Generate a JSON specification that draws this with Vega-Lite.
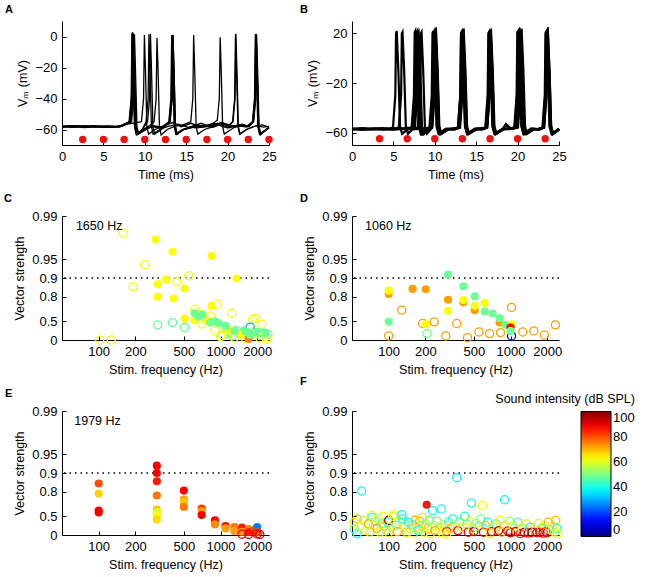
{
  "$schema": "https://vega.github.io/schema/vega-lite/v6.json",
  "padding": {"left": 4, "top": 4, "right": 5, "bottom": 5},
  "columns": 2,
  "spacing": {"row": 71, "column": 83},
  "bounds": "flush",
  "resolve": {"scale": {"color": "independent"}},
  "config": {
    "font": "Liberation Sans",
    "view": {"stroke": null},
    "axis": {"grid": false, "domainColor": "black", "tickColor": "black", "labelColor": "black", "titleColor": "black", "labelFontSize": 13, "titleFontSize": 12.5, "titleFontWeight": "normal", "tickSize": -4, "labelPadding": 9, "domainWidth": 1, "tickWidth": 1, "labelFlush": false, "labelOverlap": false, "titlePadding": 5},
    "title": {"fontSize": 11, "fontWeight": "bold", "anchor": "start", "color": "black", "offset": 6, "frame": "group"}
  },
  "datasets": {
    "traces_a": [
      {"trial": "a1", "t": [0,1.5,3,4.5,6,7.2,8.1,8.35,8.45,8.57,8.75,8.95,9.75,10.9,12,12.6,13.0,13.25,13.35,13.47,13.65,13.85,14.65,15.9,17,18.4,19.5,20.9,22,22.6,23.05,23.3,23.4,23.52,23.7,23.9,24.7,25],
       "v": [-58,-57.5,-58.2,-57.8,-58.4,-57.6,-55,-40,2,-20,-58,-63,-60,-58,-59,-57,-55,-40,1,-20,-58,-63,-60,-58.5,-57.5,-58,-56,-58.5,-57.5,-58,-55,-40,1.5,-20,-58,-63,-60,-59]},
      {"trial": "a2", "t": [0,1.2,2.7,4.2,5.6,7.0,8.2,8.45,8.55,8.67,8.85,9.05,9.6,10.15,10.4,10.5,10.62,10.8,11.0,11.8,12.8,14,15.2,16.3,17.6,18.8,20,21.2,22.3,23.15,23.4,23.5,23.62,23.8,24.0,24.7,25],
       "v": [-58.5,-58,-58.8,-58.2,-58.6,-58,-55,-40,2.5,-20,-58,-63.5,-61,-55,-40,1.5,-20,-58,-63,-60,-58,-56.5,-58.5,-59,-58,-56,-59,-57.5,-58,-55,-40,1,-20,-58,-63,-60,-58.5]},
      {"trial": "a3", "t": [0,1.4,2.8,4.3,5.7,7.1,8.3,8.55,8.65,8.77,8.95,9.15,9.9,11,12.2,13.05,13.3,13.4,13.52,13.7,13.9,14.7,15.8,17,18.3,19.6,20.3,20.65,20.9,21.0,21.12,21.3,21.5,22.3,23.2,24.2,25],
       "v": [-57.8,-58.3,-57.6,-58.4,-57.9,-58.2,-55,-40,1.5,-20,-58,-63,-60,-58,-59,-55,-40,1,-20,-58,-63,-60,-58.5,-58,-56,-58.5,-57,-55,-40,1.7,-20,-58,-63,-60,-58,-57,-58.5]},
      {"trial": "a4", "t": [0,1.3,2.6,4,5.4,6.8,8.15,8.4,8.5,8.62,8.8,9.0,9.8,10.6,11.12,11.37,11.47,11.59,11.77,11.97,12.7,13.6,14.6,15.55,15.8,15.9,16.02,16.2,16.4,17.2,18.4,19.2,20.3,21.3,22.3,23.0,23.25,23.35,23.47,23.65,23.85,24.6,25],
       "v": [-58,-58.6,-57.7,-58.3,-57.6,-58.1,-55,-40,2,-20,-58,-63,-60,-57.5,-55,-40,-1,-20,-58,-63.5,-60,-58,-57,-55,-40,1,-20,-58,-63,-60,-58,-55.5,-58.5,-57,-58,-55,-40,1.5,-20,-58,-63,-60,-59]},
      {"trial": "a5", "t": [0,1.6,3.1,4.4,5.9,7.3,8.4,8.65,8.75,8.87,9.05,9.25,10.0,11.0,12.1,12.95,13.2,13.3,13.42,13.6,13.8,14.6,15.7,16.9,18.0,19.2,20.4,21.7,22.5,23.1,23.35,23.45,23.57,23.75,23.95,24.7,25],
       "v": [-58.2,-57.7,-58.5,-58,-58.3,-57.8,-55,-40,1.5,-20,-58,-63,-60.5,-57.5,-58.5,-55,-40,0.5,-20,-58,-63,-60,-58,-57.5,-58.5,-55.5,-58,-57,-58.3,-55,-40,1.8,-20,-58,-63.5,-60,-59]},
      {"trial": "a6", "t": [0,1.1,2.5,3.9,5.3,6.7,7.9,8.9,9.6,9.85,9.95,10.07,10.25,10.45,11.25,12.3,13.4,14.4,15.6,16.8,17.9,18.5,18.75,19.0,19.1,19.22,19.4,19.6,20.4,21.2,22.3,23.05,23.3,23.4,23.52,23.7,23.9,24.7,25],
       "v": [-58.4,-57.9,-58.1,-57.5,-58.6,-58,-56.5,-55.5,-55,-40,1,-20,-58,-63,-60,-57.5,-55.5,-58.2,-56,-58.4,-57.8,-55,-54,-40,-0.5,-20,-58,-63,-60,-57.5,-58.5,-55,-40,1.5,-20,-58,-63,-60,-58.5]},
      {"trial": "a7", "t": [0,1.45,2.9,4.35,5.8,7.15,8.15,8.4,8.5,8.62,8.8,9.0,9.7,10.33,10.58,10.68,10.8,10.98,11.18,12.0,13.05,13.3,13.4,13.52,13.7,13.9,14.7,15.8,17.0,18.3,19.4,20.6,21.8,22.6,23.1,23.35,23.45,23.57,23.75,23.95,24.7,25],
       "v": [-57.9,-58.4,-57.8,-58.2,-58.5,-57.9,-55,-40,2.8,-20,-58,-63,-60,-55,-40,1.7,-20,-58,-63,-60,-55,-40,1.2,-20,-58,-63,-60,-58.3,-57.6,-58.5,-56,-58,-56.5,-58.2,-55,-40,1.5,-20,-58,-63,-60,-59]},
      {"trial": "a8", "t": [0,1.35,2.75,4.1,5.5,6.9,8.25,8.5,8.6,8.72,8.9,9.1,9.9,11.0,12.0,12.9,13.15,13.25,13.37,13.55,13.75,14.55,15.7,16.8,18.0,19.1,20.1,20.6,20.85,20.95,21.07,21.25,21.45,22.25,23.5,24.3,25],
       "v": [-58.1,-57.6,-58.4,-57.9,-58.2,-58.5,-55,-40,2,-20,-58,-63,-60,-58,-58.8,-55,-40,0.8,-20,-58,-63,-60,-58,-56,-58.5,-56.5,-57.5,-55,-40,1.5,-20,-58,-63,-60,-57.5,-58.5,-58]}
    ],
    "traces_b": [
      {"trial": "b1", "t": [0,1.2,2.4,3.6,4.6,4.95,5.23,5.32,5.4,5.6,5.8,6.05,6.8,7.35,7.63,7.72,7.8,8.0,8.2,8.45,9.0,9.55,9.83,9.92,10.0,10.2,10.4,10.65,11.5,12.4,12.9,13.18,13.27,13.35,13.55,13.75,14.0,14.9,15.8,16.2,16.48,16.57,16.65,16.85,17.05,17.3,18.2,19.1,19.75,20.03,20.12,20.2,20.4,20.6,20.85,21.8,22.6,23.1,23.38,23.47,23.55,23.75,23.95,24.2,25],
       "v": [-57,-56.5,-57.5,-57,-56.5,-56,-30,20,22,-10,-55,-61,-57,-56,-30,20,22,-10,-55,-61,-57,-56,-30,21,22,-10,-55,-61,-57.5,-56.5,-56,-30,20,21,-10,-55,-61,-57,-57.5,-56,-30,20,21.5,-10,-55,-61,-57,-56.5,-56,-30,21,22,-10,-55,-61,-57,-57.5,-56,-30,21,22,-10,-55,-61,-58]},
      {"trial": "b2", "t": [0,1.3,2.6,3.9,5.0,5.65,5.93,6.02,6.1,6.3,6.5,6.75,7.5,7.78,7.87,7.95,8.15,8.35,8.6,9.2,9.65,9.93,10.02,10.1,10.3,10.5,10.75,11.6,12.5,13.0,13.28,13.37,13.45,13.65,13.85,14.1,15.0,15.9,16.3,16.58,16.67,16.75,16.95,17.15,17.4,18.3,18.6,19.2,19.9,20.18,20.27,20.35,20.55,20.75,21.0,21.9,22.7,23.2,23.48,23.57,23.65,23.85,24.05,24.3,25],
       "v": [-57.5,-57,-56.5,-57.5,-57,-56,-30,20,21,-10,-55,-61,-56,-30,21,22.5,-10,-55,-61,-57,-56,-30,21,22,-10,-55,-61,-57,-56.5,-56,-30,20,21,-10,-55,-61,-57.5,-57,-56,-30,20,21,-10,-55,-61,-57,-53,-57,-56,-30,20,21,-10,-55,-61,-57.5,-57,-56,-30,21,22,-10,-55,-61,-57.5]},
      {"trial": "b3", "t": [0,1.1,2.3,3.5,4.7,5.9,6.7,7.2,7.48,7.57,7.65,7.85,8.05,8.3,8.9,9.5,9.78,9.87,9.95,10.15,10.35,10.6,11.4,12.3,12.85,13.13,13.22,13.3,13.5,13.7,13.95,14.8,15.7,16.15,16.43,16.52,16.6,16.8,17.0,17.25,18.1,19.0,19.6,19.88,19.97,20.05,20.25,20.45,20.7,21.6,22.5,23.05,23.33,23.42,23.5,23.7,23.9,24.15,25],
       "v": [-56.8,-57.6,-57.2,-56.6,-57.4,-57,-56.2,-56,-30,21,22,-10,-55,-61,-57,-56,-30,20,22,-10,-55,-61,-57,-57.5,-56,-30,20,21,-10,-55,-61,-57,-56.8,-56,-30,20,21,-10,-55,-61,-57.5,-57,-56,-30,21,21.5,-10,-55,-61,-56.8,-57.4,-56,-30,20,22,-10,-55,-61,-57]},
      {"trial": "b4", "t": [0,1.4,2.8,4.0,5.2,6.4,7.4,7.95,8.23,8.32,8.4,8.6,8.8,9.05,9.7,9.98,10.07,10.15,10.35,10.55,10.8,11.7,12.5,12.95,13.23,13.32,13.4,13.6,13.8,14.05,14.9,15.8,16.25,16.53,16.62,16.7,16.9,17.1,17.35,18.2,18.5,19.3,20.05,20.33,20.42,20.5,20.7,20.9,21.15,22.0,22.7,23.15,23.43,23.52,23.6,23.8,24.0,24.25,25],
       "v": [-57.2,-56.7,-57.3,-57,-56.5,-57.3,-56.8,-56,-30,20,21,-10,-55,-61,-56,-30,21,22,-10,-55,-61,-57,-57.3,-56,-30,21,21.5,-10,-55,-61,-57.2,-56.6,-56,-30,20.5,21,-10,-55,-61,-57,-54,-57,-56,-30,20,21,-10,-55,-61,-57,-57.3,-56,-30,21,22,-10,-55,-61,-57]},
      {"trial": "b5", "t": [0,1.25,2.5,3.75,5.0,6.2,7.0,7.45,7.73,7.82,7.9,8.1,8.3,8.55,9.1,9.6,9.88,9.97,10.05,10.25,10.45,10.7,11.6,12.3,12.8,13.08,13.17,13.25,13.45,13.65,13.9,14.8,15.6,16.3,16.58,16.67,16.75,16.95,17.15,17.4,18.3,19.1,19.8,20.08,20.17,20.25,20.45,20.65,20.9,21.8,22.6,23.1,23.38,23.47,23.55,23.75,23.95,24.2,25],
       "v": [-57.4,-56.9,-57.1,-57.6,-56.7,-57.2,-56.5,-56,-30,21,22,-10,-55,-61,-57,-56,-30,21,22.5,-10,-55,-61,-57.3,-56.8,-56,-30,20,21,-10,-55,-61,-57,-57.4,-56,-30,20,21,-10,-55,-61,-56.9,-57.3,-56,-30,20.5,21.5,-10,-55,-61,-57.2,-56.9,-56,-30,21,22,-10,-55,-61,-57.3]},
      {"trial": "b6", "t": [0,1.5,3.0,4.5,6.0,7.2,8.1,8.9,9.35,9.63,9.72,9.8,10.0,10.2,10.45,11.3,12.4,13.05,13.33,13.42,13.5,13.7,13.9,14.15,15.1,16.1,16.38,16.47,16.55,16.75,16.95,17.2,18.1,19.0,19.65,19.93,20.02,20.1,20.3,20.5,20.75,21.7,22.5,23.0,23.28,23.37,23.45,23.65,23.85,24.1,25],
       "v": [-57,-57.5,-56.8,-57.3,-56.9,-57.4,-57,-56.4,-56,-30,20,22,-10,-55,-61,-57,-57.4,-56,-30,20,21,-10,-55,-61,-57,-56,-30,20,21,-10,-55,-61,-57.3,-56.8,-56,-30,21,22,-10,-55,-61,-57.4,-56.9,-56,-30,20,22,-10,-55,-61,-57.1]},
      {"trial": "b7", "t": [0,1.3,2.6,3.8,5.1,6.3,6.9,7.3,7.58,7.67,7.75,7.95,8.15,8.4,9.0,9.65,9.93,10.02,10.1,10.3,10.5,10.75,11.7,12.4,12.9,13.18,13.27,13.35,13.55,13.75,14.0,15.0,15.7,16.2,16.48,16.57,16.65,16.85,17.05,17.3,18.2,19.2,19.95,20.23,20.32,20.4,20.6,20.8,21.05,22.0,22.7,23.2,23.48,23.57,23.65,23.85,24.05,24.3,25],
       "v": [-56.9,-57.4,-57.1,-56.6,-57.5,-57,-56.3,-56,-30,20,21.5,-10,-55,-61,-57,-56,-30,21,22,-10,-55,-61,-57.4,-56.9,-56,-30,20,21,-10,-55,-61,-56.8,-57.3,-56,-30,20,21.5,-10,-55,-61,-57.2,-56.8,-56,-30,20,21,-10,-55,-61,-57.1,-57.4,-56,-30,21,22,-10,-55,-61,-57]},
      {"trial": "b8", "t": [0,1.2,2.4,3.7,4.9,6.1,7.1,7.6,7.88,7.97,8.05,8.25,8.45,8.7,9.5,9.78,9.87,9.95,10.15,10.35,10.6,11.5,12.3,12.8,13.08,13.17,13.25,13.45,13.65,13.9,14.9,15.7,16.35,16.63,16.72,16.8,17.0,17.2,17.45,18.3,19.1,19.7,19.98,20.07,20.15,20.35,20.55,20.8,21.7,22.6,23.1,23.38,23.47,23.55,23.75,23.95,24.2,25],
       "v": [-57.3,-56.8,-57.2,-56.9,-57.5,-56.7,-57.1,-56,-30,20,21,-10,-55,-61,-56,-30,21,22,-10,-55,-61,-57,-57.5,-56,-30,20,21,-10,-55,-61,-57.1,-56.7,-56,-30,20,21,-10,-55,-61,-57.3,-57,-56,-30,21,22,-10,-55,-61,-56.8,-57.2,-56,-30,21,22,-10,-55,-61,-57.2]}
    ],
    "stim_a": [{"t":2.5,"v":-66.5},{"t":5,"v":-66.5},{"t":7.5,"v":-66.5},{"t":10,"v":-66.5},{"t":12.5,"v":-66.5},{"t":15,"v":-66.5},{"t":17.5,"v":-66.5},{"t":20,"v":-66.5},{"t":22.5,"v":-66.5},{"t":25,"v":-66.5}],
    "stim_b": [{"t":3.33,"v":-65},{"t":6.67,"v":-65},{"t":10,"v":-65},{"t":13.33,"v":-65},{"t":16.67,"v":-65},{"t":20,"v":-65},{"t":23.33,"v":-65}],
    "c": [
      {"f":102,"q":1,"db":62,"s":"o"},{"f":127,"q":1,"db":62,"s":"o"},{"f":159,"q":0.019,"db":62,"s":"o"},{"f":237,"q":0.061,"db":62,"s":"o"},{"f":192,"q":0.139,"db":62,"s":"o"},{"f":438,"q":0.114,"db":62,"s":"o"},{"f":547,"q":0.092,"db":62,"s":"o"},{"f":305,"q":0.572,"db":47,"s":"o"},{"f":404,"q":0.524,"db":47,"s":"o"},{"f":507,"q":0.63,"db":47,"s":"o"},{"f":614,"q":0.319,"db":62,"s":"o"},{"f":938,"q":0.265,"db":62,"s":"o"},{"f":1233,"q":0.37,"db":62,"s":"o"},{"f":826,"q":0.409,"db":62,"s":"o"},{"f":1945,"q":0.447,"db":62,"s":"o"},{"f":1828,"q":0.462,"db":62,"s":"o"},{"f":2177,"q":0.557,"db":62,"s":"o"},{"f":700,"q":0.55,"db":62,"s":"o"},{"f":760,"q":0.48,"db":62,"s":"o"},{"f":1050,"q":0.82,"db":50,"s":"o"},{"f":1150,"q":0.75,"db":62,"s":"o"},{"f":1250,"q":0.86,"db":45,"s":"o"},{"f":1350,"q":0.7,"db":50,"s":"o"},{"f":1450,"q":0.8,"db":55,"s":"o"},{"f":1550,"q":0.72,"db":47,"s":"o"},{"f":1650,"q":0.78,"db":50,"s":"o"},{"f":1750,"q":0.85,"db":45,"s":"o"},{"f":1850,"q":0.74,"db":50,"s":"o"},{"f":1950,"q":0.8,"db":62,"s":"o"},{"f":2050,"q":0.76,"db":47,"s":"o"},{"f":2150,"q":0.85,"db":50,"s":"o"},{"f":2250,"q":0.78,"db":45,"s":"o"},{"f":2350,"q":0.88,"db":62,"s":"o"},{"f":2450,"q":0.8,"db":50,"s":"o"},{"f":1300,"q":0.92,"db":62,"s":"o"},{"f":1600,"q":0.95,"db":62,"s":"o"},{"f":2100,"q":0.93,"db":62,"s":"o"},{"f":2400,"q":0.97,"db":62,"s":"o"},{"f":1000,"q":0.88,"db":62,"s":"o"},{"f":900,"q":0.7,"db":62,"s":"o"},{"f":1100,"q":0.65,"db":62,"s":"o"},{"f":1750,"q":0.62,"db":30,"s":"o"},
      {"f":294,"q":0.024,"db":62,"s":"f"},{"f":404,"q":0.0377,"db":62,"s":"f"},{"f":843,"q":0.0443,"db":62,"s":"f"},{"f":305,"q":0.126,"db":62,"s":"f"},{"f":358,"q":0.106,"db":62,"s":"f"},{"f":305,"q":0.201,"db":62,"s":"f"},{"f":411,"q":0.214,"db":62,"s":"f"},{"f":507,"q":0.148,"db":62,"s":"f"},{"f":1355,"q":0.102,"db":62,"s":"f"},{"f":507,"q":0.452,"db":62,"s":"f"},{"f":614,"q":0.48,"db":62,"s":"f"},{"f":843,"q":0.282,"db":62,"s":"f"},{"f":705,"q":0.385,"db":62,"s":"f"},{"f":800,"q":0.5,"db":62,"s":"f"},{"f":1200,"q":0.7,"db":62,"s":"f"},{"f":1500,"q":0.8,"db":62,"s":"f"},{"f":1700,"q":0.96,"db":75,"s":"f"},
      {"f":614,"q":0.37,"db":48,"s":"f"},{"f":705,"q":0.394,"db":48,"s":"f"},{"f":660,"q":0.42,"db":48,"s":"f"},{"f":826,"q":0.524,"db":48,"s":"f"},{"f":900,"q":0.5,"db":48,"s":"f"},{"f":967,"q":0.537,"db":48,"s":"f"},{"f":1100,"q":0.593,"db":48,"s":"f"},{"f":1300,"q":0.715,"db":48,"s":"f"},{"f":1600,"q":0.72,"db":48,"s":"f"},{"f":1950,"q":0.75,"db":48,"s":"f"},{"f":2350,"q":0.78,"db":48,"s":"f"},{"f":1750,"q":0.82,"db":48,"s":"f"}
    ],
    "d": [
      {"f":100,"q":0.181,"db":72,"s":"f"},{"f":100,"q":0.16,"db":62,"s":"f"},{"f":100,"q":0.51,"db":48,"s":"f"},{"f":157,"q":0.15,"db":72,"s":"f"},{"f":202,"q":0.152,"db":72,"s":"f"},{"f":202,"q":0.556,"db":62,"s":"f"},{"f":307,"q":0.0877,"db":48,"s":"f"},{"f":307,"q":0.224,"db":72,"s":"f"},{"f":307,"q":0.337,"db":62,"s":"f"},{"f":410,"q":0.136,"db":48,"s":"f"},{"f":410,"q":0.247,"db":72,"s":"f"},{"f":410,"q":0.226,"db":62,"s":"f"},{"f":508,"q":0.197,"db":48,"s":"f"},{"f":508,"q":0.33,"db":72,"s":"f"},{"f":508,"q":0.28,"db":62,"s":"f"},{"f":613,"q":0.253,"db":62,"s":"f"},{"f":613,"q":0.347,"db":48,"s":"f"},{"f":712,"q":0.373,"db":48,"s":"f"},{"f":813,"q":0.523,"db":72,"s":"f"},{"f":813,"q":0.444,"db":48,"s":"f"},{"f":910,"q":0.57,"db":48,"s":"f"},{"f":1019,"q":0.556,"db":62,"s":"f"},{"f":1000,"q":0.63,"db":88,"s":"f"},{"f":1000,"q":0.714,"db":48,"s":"f"},
      {"f":100,"q":0.86,"db":72,"s":"o"},{"f":128,"q":0.33,"db":72,"s":"o"},{"f":190,"q":0.542,"db":72,"s":"o"},{"f":236,"q":0.51,"db":72,"s":"o"},{"f":206,"q":0.789,"db":48,"s":"o"},{"f":294,"q":0.86,"db":72,"s":"o"},{"f":362,"q":0.542,"db":72,"s":"o"},{"f":443,"q":0.916,"db":72,"s":"o"},{"f":551,"q":0.741,"db":72,"s":"o"},{"f":673,"q":0.789,"db":72,"s":"o"},{"f":828,"q":0.76,"db":72,"s":"o"},{"f":1019,"q":0.298,"db":72,"s":"o"},{"f":1019,"q":0.86,"db":10,"s":"o"},{"f":1262,"q":0.741,"db":72,"s":"o"},{"f":1552,"q":0.714,"db":72,"s":"o"},{"f":1897,"q":0.83,"db":72,"s":"o"},{"f":2335,"q":0.57,"db":72,"s":"o"}
    ],
    "e": [
      {"f":100,"q":0.148,"db":80,"s":"f"},{"f":100,"q":0.215,"db":67,"s":"f"},{"f":100,"q":0.402,"db":88,"s":"f"},{"f":100,"q":0.433,"db":88,"s":"f"},
      {"f":300,"q":0.0762,"db":88,"s":"f"},{"f":300,"q":0.1,"db":88,"s":"f"},{"f":300,"q":0.136,"db":85,"s":"f"},{"f":300,"q":0.231,"db":76,"s":"f"},{"f":300,"q":0.387,"db":68,"s":"f"},{"f":300,"q":0.428,"db":58,"s":"f"},{"f":300,"q":0.478,"db":62,"s":"f"},{"f":300,"q":0.561,"db":66,"s":"f"},
      {"f":500,"q":0.192,"db":88,"s":"f"},{"f":500,"q":0.268,"db":72,"s":"f"},{"f":500,"q":0.292,"db":68,"s":"f"},{"f":500,"q":0.351,"db":76,"s":"f"},
      {"f":700,"q":0.373,"db":82,"s":"f"},{"f":700,"q":0.412,"db":72,"s":"f"},{"f":700,"q":0.478,"db":88,"s":"f"},
      {"f":900,"q":0.582,"db":88,"s":"f"},{"f":900,"q":0.674,"db":74,"s":"f"},
      {"f":1100,"q":0.718,"db":88,"s":"f"},{"f":1100,"q":0.782,"db":72,"s":"f"},
      {"f":1300,"q":0.744,"db":76,"s":"f"},{"f":1300,"q":0.863,"db":72,"s":"f"},
      {"f":1500,"q":0.762,"db":85,"s":"f"},{"f":1500,"q":0.885,"db":72,"s":"f"},
      {"f":1700,"q":0.8,"db":74,"s":"f"},{"f":1700,"q":0.9,"db":85,"s":"f"},
      {"f":1900,"q":0.83,"db":80,"s":"f"},{"f":2000,"q":0.744,"db":25,"s":"f"},{"f":2000,"q":0.9,"db":80,"s":"f"},
      {"f":1500,"q":0.97,"db":90,"s":"o"},{"f":1700,"q":0.98,"db":88,"s":"o"},{"f":2000,"q":0.96,"db":90,"s":"o"},{"f":2100,"q":0.98,"db":92,"s":"o"}
    ],
    "f": [
      {"f":52,"q":0.62,"db":65},{"f":52,"q":0.8,"db":45},{"f":55,"q":0.95,"db":40},{"f":55,"q":0.55,"db":70},{"f":58,"q":0.72,"db":60},{"f":60,"q":0.195,"db":38},{"f":62,"q":0.58,"db":55},{"f":65,"q":0.85,"db":62},{"f":68,"q":0.66,"db":70},{"f":70,"q":0.9,"db":55},{"f":72,"q":0.48,"db":62},{"f":73,"q":0.52,"db":45},{"f":75,"q":0.7,"db":65},{"f":78,"q":0.6,"db":50},{"f":80,"q":0.78,"db":72},{"f":82,"q":0.55,"db":58},{"f":85,"q":0.9,"db":62},{"f":88,"q":0.65,"db":45},{"f":90,"q":0.5,"db":60},{"f":92,"q":0.72,"db":68},{"f":95,"q":0.85,"db":50},{"f":98,"q":0.62,"db":40},{"f":100,"q":0.58,"db":95},{"f":100,"q":0.92,"db":65},{"f":103,"q":0.75,"db":55},
      {"f":108,"q":0.5,"db":60},{"f":111,"q":0.47,"db":62},{"f":115,"q":0.7,"db":48},{"f":118,"q":0.88,"db":70},{"f":122,"q":0.6,"db":58},{"f":128,"q":0.47,"db":38},{"f":130,"q":0.55,"db":42},{"f":135,"q":0.75,"db":65},{"f":140,"q":0.9,"db":68},{"f":145,"q":0.62,"db":40},{"f":150,"q":0.8,"db":55},{"f":155,"q":0.68,"db":45},{"f":160,"q":0.95,"db":62},{"f":165,"q":0.58,"db":70},{"f":170,"q":0.78,"db":58},{"f":175,"q":0.85,"db":42},{"f":180,"q":0.6,"db":72},{"f":185,"q":0.72,"db":50},{"f":190,"q":0.52,"db":65},{"f":195,"q":0.9,"db":60},{"f":200,"q":0.66,"db":55},{"f":210,"q":0.8,"db":68},{"f":215,"q":0.58,"db":45},{"f":220,"q":0.95,"db":62},{"f":229,"q":0.405,"db":38},{"f":235,"q":0.7,"db":60},{"f":240,"q":0.85,"db":72},{"f":250,"q":0.6,"db":48},{"f":260,"q":0.75,"db":65},{"f":271,"q":0.381,"db":40},{"f":275,"q":0.92,"db":62},{"f":285,"q":0.68,"db":55},{"f":300,"q":0.88,"db":85},{"f":300,"q":0.97,"db":62},{"f":310,"q":0.62,"db":45},{"f":320,"q":0.78,"db":68},{"f":335,"q":0.55,"db":40},{"f":350,"q":0.7,"db":58},{"f":362,"q":0.119,"db":38},{"f":370,"q":0.85,"db":90},{"f":380,"q":0.62,"db":52},{"f":400,"q":0.75,"db":65},{"f":420,"q":0.5,"db":42},{"f":440,"q":0.68,"db":48},{"f":450,"q":0.9,"db":88},{"f":460,"q":0.6,"db":60},{"f":477,"q":0.306,"db":40},{"f":490,"q":0.8,"db":62},{"f":500,"q":0.88,"db":92},{"f":520,"q":0.65,"db":55},{"f":550,"q":0.72,"db":45},{"f":570,"q":0.55,"db":50},{"f":587,"q":0.333,"db":62},{"f":600,"q":0.9,"db":88},{"f":620,"q":0.7,"db":68},{"f":650,"q":0.62,"db":40},{"f":680,"q":0.95,"db":65},{"f":700,"q":0.88,"db":90},{"f":720,"q":0.75,"db":58},{"f":760,"q":0.66,"db":48},{"f":800,"q":0.85,"db":92},{"f":820,"q":0.58,"db":60},{"f":850,"q":0.9,"db":70},{"f":893,"q":0.27,"db":38},{"f":900,"q":0.7,"db":65},{"f":950,"q":0.86,"db":88},{"f":980,"q":0.6,"db":52},{"f":1000,"q":0.92,"db":94},{"f":1050,"q":0.72,"db":62},{"f":1100,"q":0.88,"db":90},{"f":1150,"q":0.62,"db":45},{"f":1200,"q":0.95,"db":85},{"f":1250,"q":0.78,"db":55},{"f":1300,"q":0.9,"db":92},{"f":1350,"q":0.66,"db":60},{"f":1400,"q":0.93,"db":88},{"f":1450,"q":0.75,"db":40},{"f":1500,"q":0.9,"db":95},{"f":1600,"q":0.85,"db":68},{"f":1650,"q":0.92,"db":90},{"f":1700,"q":0.65,"db":58},{"f":1750,"q":0.9,"db":88},{"f":1800,"q":0.78,"db":45},{"f":1850,"q":0.93,"db":92},{"f":1900,"q":0.7,"db":62},{"f":1950,"q":0.88,"db":85},{"f":2000,"q":0.92,"db":90},{"f":2050,"q":0.62,"db":70},{"f":2100,"q":0.82,"db":50},{"f":2200,"q":0.72,"db":65},{"f":2300,"q":0.9,"db":58},{"f":2350,"q":0.58,"db":68},{"f":2400,"q":0.78,"db":42},{"f":2450,"q":0.95,"db":62}
    ],
    "f_filled": [{"f":205,"q":0.325,"db":90}]
  },
  "concat": [
    {
      "title": {"text": "A", "dx": -57},
      "width": 207, "height": 124,
      "layer": [
        {
          "data": {"name": "traces_a"},
          "transform": [{"flatten": ["t", "v"]}],
          "mark": {"type": "line", "color": "black", "strokeWidth": 1.3},
          "encoding": {
            "x": {"field": "t", "type": "quantitative", "scale": {"domain": [0, 25], "nice": false}, "axis": {"values": [0,5,10,15,20,25], "title": "Time (ms)"}},
            "y": {"field": "v", "type": "quantitative", "scale": {"domain": [-70, 10], "nice": false}, "axis": {"values": [-60,-40,-20,0], "title": "Vₘ (mV)"}},
            "detail": {"field": "trial"}
          }
        },
        {
          "data": {"name": "stim_a"},
          "mark": {"type": "point", "filled": true, "color": "#ee1111", "size": 55, "opacity": 1},
          "encoding": {
            "x": {"field": "t", "type": "quantitative"},
            "y": {"field": "v", "type": "quantitative"}
          }
        }
      ]
    },
    {
      "title": {"text": "B", "dx": -52},
      "width": 207, "height": 124,
      "layer": [
        {
          "data": {"name": "traces_b"},
          "transform": [{"flatten": ["t", "v"]}],
          "mark": {"type": "line", "color": "black", "strokeWidth": 2.2},
          "encoding": {
            "x": {"field": "t", "type": "quantitative", "scale": {"domain": [0, 25], "nice": false}, "axis": {"values": [0,5,10,15,20,25], "title": "Time (ms)"}},
            "y": {"field": "v", "type": "quantitative", "scale": {"domain": [-70, 30], "nice": false}, "axis": {"values": [-60,-40,-20,0,20], "title": "Vₘ (mV)"}},
            "detail": {"field": "trial"}
          }
        },
        {
          "data": {"name": "stim_b"},
          "mark": {"type": "point", "filled": true, "color": "#ee1111", "size": 55, "opacity": 1},
          "encoding": {
            "x": {"field": "t", "type": "quantitative"},
            "y": {"field": "v", "type": "quantitative"}
          }
        }
      ]
    },
    {
      "title": {"text": "C", "dx": -58},
      "width": 207, "height": 124,
      "layer": [
        {
          "data": {"values": [{"q": 0.1}]},
          "mark": {"type": "rule", "color": "black", "strokeWidth": 1.5, "strokeDash": [1.5, 4]},
          "encoding": {"y": {"field": "q", "type": "quantitative", "scale": {"type": "log", "domain": [0.01, 1], "reverse": true, "nice": false}, "axis": {"values": [1,0.5,0.2,0.1,0.05,0.01], "labelExpr": "'' + round((1 - datum.value) * 100) / 100", "title": "Vector strength"}}}
        },
        {
          "data": {"name": "c"},
          "transform": [{"filter": "datum.s == 'o'"}],
          "mark": {"type": "point", "filled": false, "size": 66, "strokeWidth": 1.3, "opacity": 1},
          "encoding": {
            "x": {"field": "f", "type": "quantitative", "scale": {"type": "log", "domain": [50, 2500], "nice": false}, "axis": {"values": [100,200,500,1000,2000], "format": "d", "title": "Stim. frequency (Hz)"}},
            "y": {"field": "q", "type": "quantitative"},
            "color": {"field": "db", "type": "quantitative", "scale": {"domain": [0, 100], "range": ["#000080","#0000ff","#0080ff","#00ffff","#80ff80","#ffff00","#ff8000","#ff0000","#800000"], "interpolate": "rgb"}, "legend": null}
          }
        },
        {
          "data": {"name": "c"},
          "transform": [{"filter": "datum.s == 'f'"}],
          "mark": {"type": "point", "filled": true, "size": 66, "opacity": 1},
          "encoding": {
            "x": {"field": "f", "type": "quantitative"},
            "y": {"field": "q", "type": "quantitative"},
            "color": {"field": "db", "type": "quantitative", "legend": null}
          }
        },
        {
          "data": {"values": [{"f": 65, "q": 0.0143, "label": "1650 Hz"}]},
          "mark": {"type": "text", "align": "left", "baseline": "middle", "fontSize": 12.5, "color": "black"},
          "encoding": {"x": {"field": "f", "type": "quantitative"}, "y": {"field": "q", "type": "quantitative"}, "text": {"field": "label"}}
        }
      ]
    },
    {
      "title": {"text": "D", "dx": -52},
      "width": 207, "height": 124,
      "layer": [
        {
          "data": {"values": [{"q": 0.1}]},
          "mark": {"type": "rule", "color": "black", "strokeWidth": 1.5, "strokeDash": [1.5, 4]},
          "encoding": {"y": {"field": "q", "type": "quantitative", "scale": {"type": "log", "domain": [0.01, 1], "reverse": true, "nice": false}, "axis": {"values": [1,0.5,0.2,0.1,0.05,0.01], "labelExpr": "'' + round((1 - datum.value) * 100) / 100", "title": "Vector strength"}}}
        },
        {
          "data": {"name": "d"},
          "transform": [{"filter": "datum.s == 'o'"}],
          "mark": {"type": "point", "filled": false, "size": 66, "strokeWidth": 1.3, "opacity": 1},
          "encoding": {
            "x": {"field": "f", "type": "quantitative", "scale": {"type": "log", "domain": [50, 2500], "nice": false}, "axis": {"values": [100,200,500,1000,2000], "format": "d", "title": "Stim. frequency (Hz)"}},
            "y": {"field": "q", "type": "quantitative"},
            "color": {"field": "db", "type": "quantitative", "scale": {"domain": [0, 100], "range": ["#000080","#0000ff","#0080ff","#00ffff","#80ff80","#ffff00","#ff8000","#ff0000","#800000"], "interpolate": "rgb"}, "legend": null}
          }
        },
        {
          "data": {"name": "d"},
          "transform": [{"filter": "datum.s == 'f'"}],
          "mark": {"type": "point", "filled": true, "size": 66, "opacity": 1},
          "encoding": {
            "x": {"field": "f", "type": "quantitative"},
            "y": {"field": "q", "type": "quantitative"},
            "color": {"field": "db", "type": "quantitative", "legend": null}
          }
        },
        {
          "data": {"values": [{"f": 64, "q": 0.0143, "label": "1060 Hz"}]},
          "mark": {"type": "text", "align": "left", "baseline": "middle", "fontSize": 12.5, "color": "black"},
          "encoding": {"x": {"field": "f", "type": "quantitative"}, "y": {"field": "q", "type": "quantitative"}, "text": {"field": "label"}}
        }
      ]
    },
    {
      "title": {"text": "E", "dx": -57},
      "width": 207, "height": 124,
      "layer": [
        {
          "data": {"values": [{"q": 0.1}]},
          "mark": {"type": "rule", "color": "black", "strokeWidth": 1.5, "strokeDash": [1.5, 4]},
          "encoding": {"y": {"field": "q", "type": "quantitative", "scale": {"type": "log", "domain": [0.01, 1], "reverse": true, "nice": false}, "axis": {"values": [1,0.5,0.2,0.1,0.05,0.01], "labelExpr": "'' + round((1 - datum.value) * 100) / 100", "title": "Vector strength"}}}
        },
        {
          "data": {"name": "e"},
          "transform": [{"filter": "datum.s == 'f'"}],
          "mark": {"type": "point", "filled": true, "size": 66, "opacity": 1},
          "encoding": {
            "x": {"field": "f", "type": "quantitative", "scale": {"type": "log", "domain": [50, 2500], "nice": false}, "axis": {"values": [100,200,500,1000,2000], "format": "d", "title": "Stim. frequency (Hz)"}},
            "y": {"field": "q", "type": "quantitative"},
            "color": {"field": "db", "type": "quantitative", "scale": {"domain": [0, 100], "range": ["#000080","#0000ff","#0080ff","#00ffff","#80ff80","#ffff00","#ff8000","#ff0000","#800000"], "interpolate": "rgb"}, "legend": null}
          }
        },
        {
          "data": {"name": "e"},
          "transform": [{"filter": "datum.s == 'o'"}],
          "mark": {"type": "point", "filled": false, "size": 66, "strokeWidth": 1.3, "opacity": 1},
          "encoding": {
            "x": {"field": "f", "type": "quantitative"},
            "y": {"field": "q", "type": "quantitative"},
            "color": {"field": "db", "type": "quantitative", "legend": null}
          }
        },
        {
          "data": {"values": [{"f": 63, "q": 0.0145, "label": "1979 Hz"}]},
          "mark": {"type": "text", "align": "left", "baseline": "middle", "fontSize": 12.5, "color": "black"},
          "encoding": {"x": {"field": "f", "type": "quantitative"}, "y": {"field": "q", "type": "quantitative"}, "text": {"field": "label"}}
        }
      ]
    },
    {
      "title": {"text": "F", "dx": -52},
      "width": 207, "height": 124,
      "layer": [
        {
          "data": {"values": [{"q": 0.1}]},
          "mark": {"type": "rule", "color": "black", "strokeWidth": 1.5, "strokeDash": [1.5, 4]},
          "encoding": {"y": {"field": "q", "type": "quantitative", "scale": {"type": "log", "domain": [0.01, 1], "reverse": true, "nice": false}, "axis": {"values": [1,0.5,0.2,0.1,0.05,0.01], "labelExpr": "'' + round((1 - datum.value) * 100) / 100", "title": "Vector strength"}}}
        },
        {
          "data": {"name": "f"},
          "mark": {"type": "point", "filled": false, "size": 66, "strokeWidth": 1.3, "opacity": 1},
          "encoding": {
            "x": {"field": "f", "type": "quantitative", "scale": {"type": "log", "domain": [50, 2500], "nice": false}, "axis": {"values": [100,200,500,1000,2000], "format": "d", "title": "Stim. frequency (Hz)"}},
            "y": {"field": "q", "type": "quantitative"},
            "color": {"field": "db", "type": "quantitative", "scale": {"domain": [0, 100], "range": ["#000080","#0000ff","#0080ff","#00ffff","#80ff80","#ffff00","#ff8000","#ff0000","#800000"], "interpolate": "rgb"},
              "legend": {"type": "gradient", "title": "Sound intensity (dB SPL)", "orient": "none", "legendX": 143, "legendY": -18, "direction": "vertical", "gradientLength": 125, "gradientThickness": 30, "gradientStrokeColor": "black", "gradientStrokeWidth": 1, "values": [0,20,40,60,80,100], "labelFontSize": 13, "labelColor": "black", "titleFontSize": 12.5, "titleFontWeight": "normal", "titleColor": "black", "titlePadding": 6, "titleAnchor": "end", "titleAlign": "right", "titleLimit": 300}}
          }
        },
        {
          "data": {"name": "f_filled"},
          "mark": {"type": "point", "filled": true, "size": 66, "opacity": 1, "color": "#ee1a10"},
          "encoding": {
            "x": {"field": "f", "type": "quantitative"},
            "y": {"field": "q", "type": "quantitative"}
          }
        }
      ]
    }
  ]
}
